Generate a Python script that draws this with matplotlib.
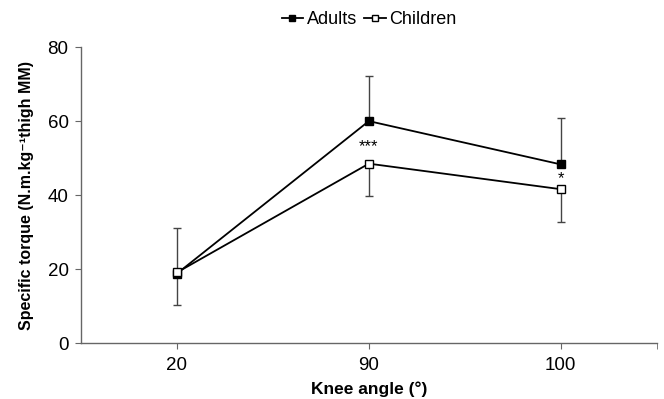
import numpy as np
import matplotlib.pyplot as plt

plt.rcParams["font.family"] = ["Liberation Sans", "DejaVu Sans"]

angles = ["20", "90", "100"]
adults = [18.8, 60.0, 48.3]
adults_sd = [12.4, 12.2, 12.5]
children = [19.1, 48.5, 41.6]
children_sd = [8.7, 8.8, 8.9]
stars = ["", "***", "*"]
star_y = [0, 53.0, 44.5]

x = np.arange(len(angles))

fig = plt.figure(figsize=(6.64, 3.99), dpi=100)
ax = fig.add_axes([0.122, 0.140, 0.867, 0.742])

# one-sided error bars: adults up, children down
ax.errorbar(x, adults, yerr=[np.zeros(3), adults_sd], fmt="none",
            ecolor="#444444", elinewidth=1, capsize=3, capthick=1, zorder=1)
ax.errorbar(x, children, yerr=[children_sd, np.zeros(3)], fmt="none",
            ecolor="#444444", elinewidth=1, capsize=3, capthick=1, zorder=1)

ax.plot(x, adults, color="black", lw=1.3, marker="s", ms=5.5,
        mfc="black", mec="black", label="Adults", zorder=3)
ax.plot(x, children, color="black", lw=1.3, marker="s", ms=5.5,
        mfc="white", mec="black", label="Children", zorder=4)

for xi, s, sy in zip(x, stars, star_y):
    if s:
        ax.text(xi, sy, s, ha="center", va="center", fontsize=12)

ax.set_xlim(-0.5, 2.5)
ax.set_ylim(0, 80)
ax.set_yticks([0, 20, 40, 60, 80])
ax.set_xticks(x)
ax.set_xticklabels(angles)
ax.set_xticks([2.5], minor=True)
ax.tick_params(axis="both", labelsize=13.5, color="#666666", length=4, pad=5)
ax.tick_params(axis="x", which="minor", length=4, color="#666666")
ax.tick_params(axis="x", pad=6)

for side in ["top", "right"]:
    ax.spines[side].set_visible(False)
for side in ["left", "bottom"]:
    ax.spines[side].set_color("#666666")
    ax.spines[side].set_linewidth(1)

ax.set_xlabel("Knee angle (\u00b0)", fontsize=12.5, fontweight="bold", labelpad=5)
ax.set_ylabel("Specific torque (N.m.kg\u207b\u00b9thigh MM)",
              fontsize=11.5, fontweight="bold", labelpad=10)

fig.legend(loc="upper center", bbox_to_anchor=(0.556, 1.012), ncol=2,
           frameon=False, fontsize=13, handlelength=1.2, handletextpad=0.2,
           columnspacing=0.4, markerscale=0.8)

fig.savefig("out.png", dpi=100)
